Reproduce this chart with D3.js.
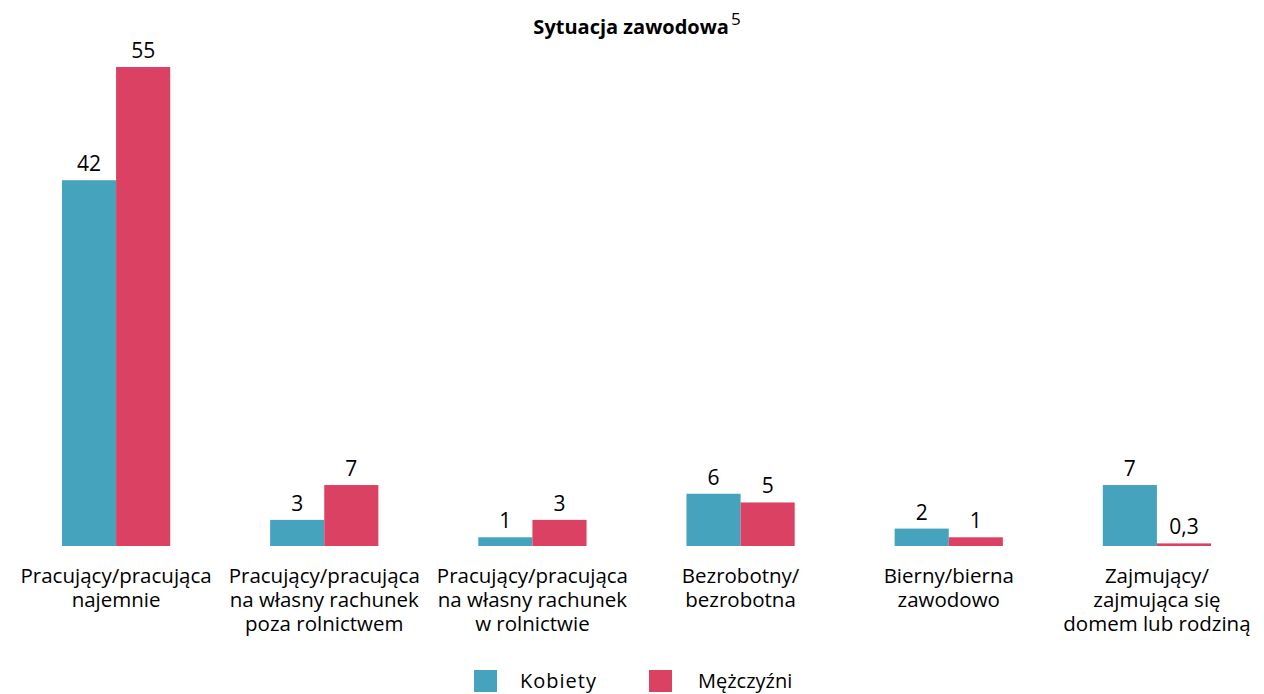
<!DOCTYPE html>
<html>
<head>
<meta charset="utf-8">
<script src="https://cdn.jsdelivr.net/npm/d3@7"></script>
<style>
  html, body { margin: 0; padding: 0; background: #fff; }
  svg { display: block; font-family: "Open Sans", "Lato", sans-serif; }
</style>
</head>
<body>
<svg id="chart" width="1264" height="694"></svg>
<script>
// ---- Data ----
const categories = [
  ["Pracujący/pracująca", "najemnie"],
  ["Pracujący/pracująca", "na własny rachunek", "poza rolnictwem"],
  ["Pracujący/pracująca", "na własny rachunek", "w rolnictwie"],
  ["Bezrobotny/", "bezrobotna"],
  ["Bierny/bierna", "zawodowo"],
  ["Zajmujący/", "zajmująca się", "domem lub rodziną"]
];
const series = ["Kobiety", "Mężczyźni"];
const kobiety = [42, 3, 1, 6, 2, 7];
const mezczyzni = [55, 7, 3, 5, 1, 0.3];
const colors = ["#45A3BE", "#DB4163"];
const title = "Sytuacja zawodowa";
const titleSup = "5";

// ---- Layout ----
const svg = d3.select("#chart");
const baseline = 546;
const catKeys = categories.map((c, i) => "c" + i);

const x = d3.scaleBand()
  .domain(catKeys)
  .range([12, 1261])
  .paddingInner(0.48)
  .paddingOuter(0.24);

const xs = d3.scaleBand()
  .domain(series)
  .range([0, x.bandwidth()])
  .padding(0);

const y = d3.scaleLinear()
  .domain([0, 55])
  .range([baseline, 67]);

const fmt = v => String(v).replace(".", ",");

const data = categories.map((c, i) => ({
  key: catKeys[i],
  lines: c,
  values: [kobiety[i], mezczyzni[i]]
}));

// Title
const t = svg.append("text")
  .attr("x", 637)
  .attr("y", 34)
  .attr("text-anchor", "middle")
  .style("font-size", "20px")
  .style("font-weight", "bold")
  .attr("fill", "#000");
t.append("tspan").text(title);
t.append("tspan").attr("dx", 2).attr("dy", -9).style("font-size", "17px").style("font-weight", "normal").text(titleSup);

// Bars
const g = svg.selectAll("g.cat")
  .data(data)
  .join("g")
  .attr("class", "cat")
  .attr("transform", d => `translate(${x(d.key)},0)`);

g.selectAll("rect")
  .data(d => d.values.map((v, j) => ({ s: series[j], v, j })))
  .join("rect")
  .attr("x", d => xs(d.s))
  .attr("width", xs.bandwidth())
  .attr("y", d => y(d.v))
  .attr("height", d => baseline - y(d.v))
  .attr("fill", d => colors[d.j]);

g.selectAll("text.val")
  .data(d => d.values.map((v, j) => ({ s: series[j], v, j })))
  .join("text")
  .attr("class", "val")
  .attr("x", d => xs(d.s) + xs.bandwidth() / 2)
  .attr("y", d => y(d.v) - 9)
  .attr("text-anchor", "middle")
  .style("font-size", "21px")
  .attr("fill", "#000")
  .text(d => fmt(d.v));

// Category labels
g.each(function(d) {
  const txt = d3.select(this).append("text")
    .attr("text-anchor", "middle")
    .style("font-size", "20.5px")
    .attr("fill", "#000");
  d.lines.forEach((line, k) => {
    txt.append("tspan")
      .attr("x", x.bandwidth() / 2)
      .attr("y", 583 + k * 24)
      .text(line);
  });
});

// Legend
const legendX = [474, 649];
const leg = svg.selectAll("g.leg")
  .data(series)
  .join("g")
  .attr("class", "leg")
  .attr("transform", (d, i) => `translate(${legendX[i]},670)`);
leg.append("rect")
  .attr("width", 23)
  .attr("height", 22)
  .attr("fill", (d, i) => colors[i]);
leg.append("text")
  .attr("x", (d, i) => i === 0 ? 46 : 49)
  .attr("y", 18)
  .style("font-size", "20px")
  .style("letter-spacing", (d, i) => i === 0 ? "1px" : "0px")
  .attr("fill", "#000")
  .text(d => d);
</script>
</body>
</html>
